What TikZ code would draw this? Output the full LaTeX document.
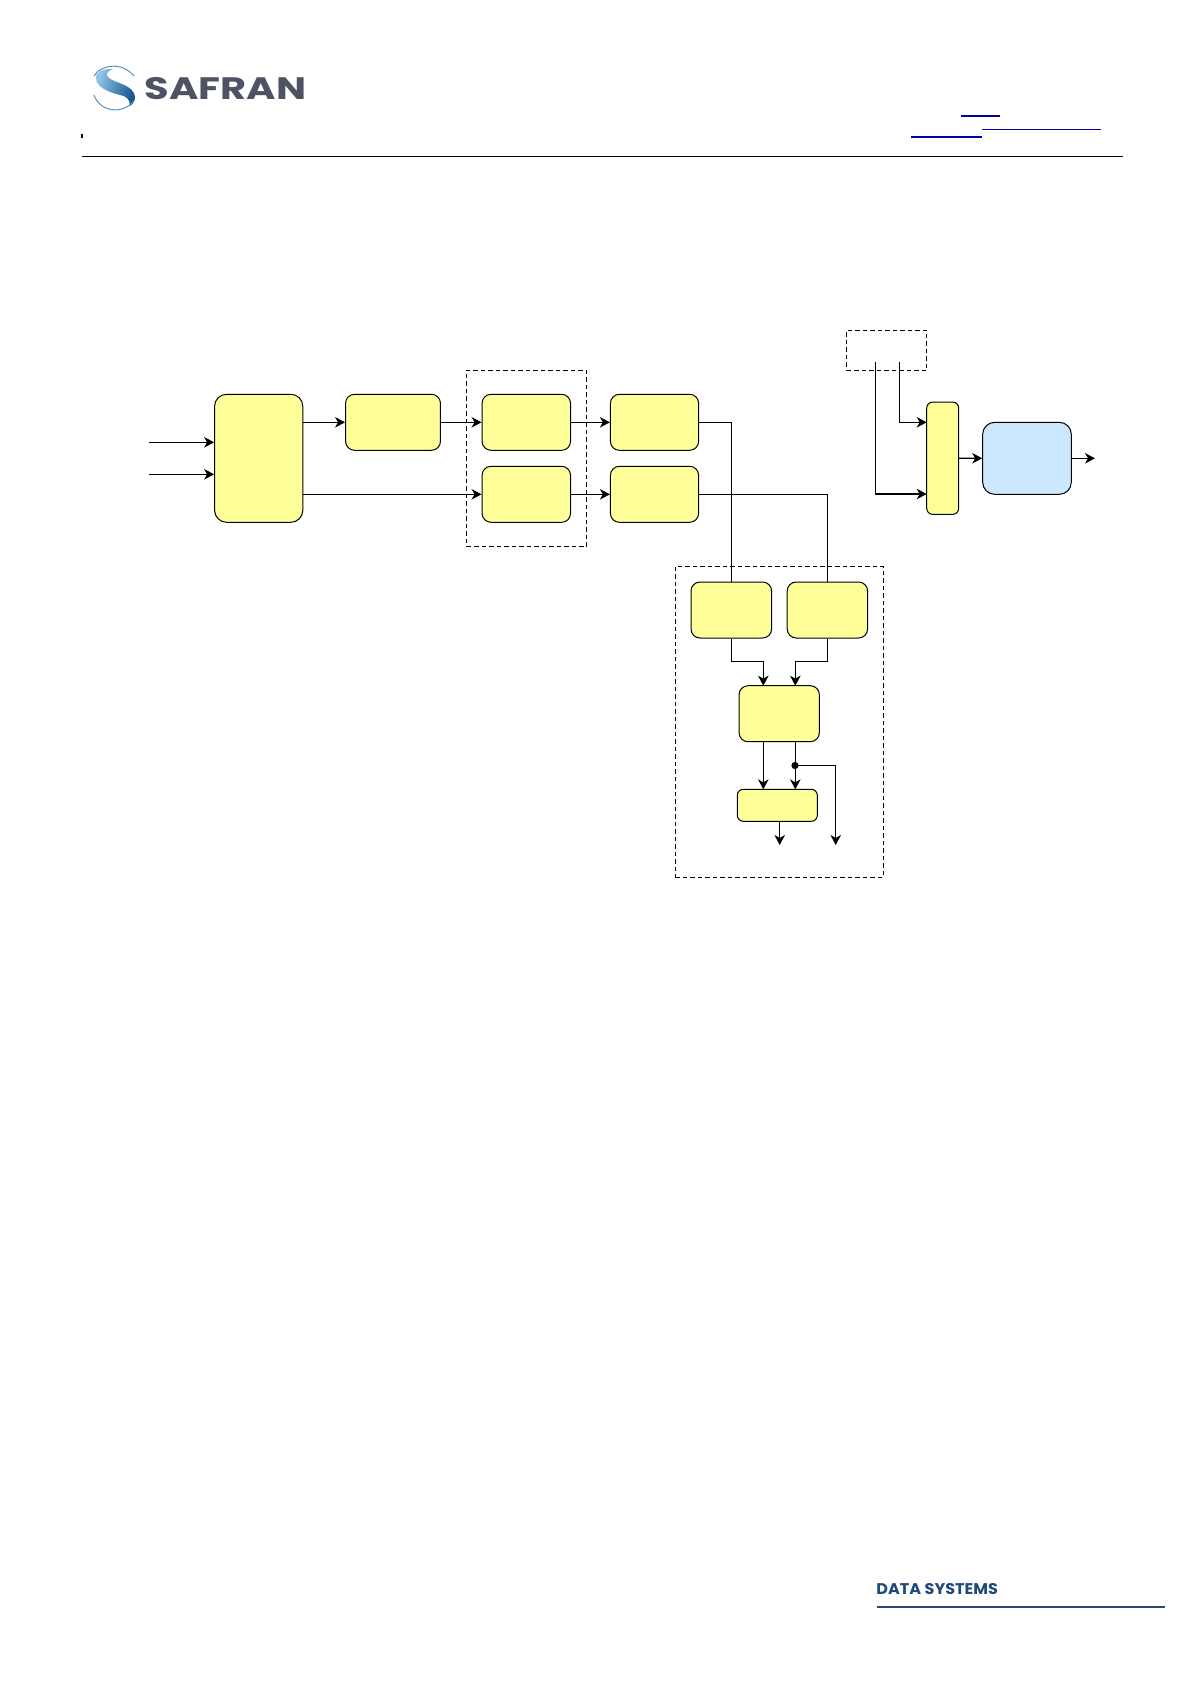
\documentclass[tikz,border=0pt]{standalone}
\usepackage{fontspec}
\setmainfont{Poppins}
\usetikzlibrary{arrows.meta}
\definecolor{boxyellow}{HTML}{FFFF99}
\definecolor{boxblue}{HTML}{CCE8FF}
\definecolor{linkblue}{HTML}{0000B0}
\definecolor{logogrey}{HTML}{4E5364}
\definecolor{dsblue}{HTML}{1F4A7A}
\definecolor{swA}{HTML}{14548F}
\definecolor{swB}{HTML}{8FC4E8}
\tikzset{
  blockbox/.style={draw=black,line width=1pt,fill=boxyellow,rounded corners=9pt,inner sep=0pt},
  dashbox/.style={draw=black,line width=1.1pt,dash pattern=on 4.5pt off 3pt,inner sep=0pt},
  conn/.style={draw=black,line width=1.1pt},
  arr/.style={conn,-{Stealth[length=10pt,width=10.5pt,inset=3pt]}},
  linkline/.style={draw=linkblue}
}
\begin{document}
\begin{tikzpicture}[x=1pt,y=-1pt]
\useasboundingbox (0,0) rectangle (1191,1684);
% header
\draw[line width=1.1pt] (82,156.3) -- (1123,156.3);
\draw[line width=1.2pt] (82,134) -- (82,138);
\draw[linkline,line width=2pt] (961,115.7) -- (1000,115.7);
\draw[linkline,line width=1pt] (982,129.3) -- (1101,129.3);
\draw[linkline,line width=2pt] (911,137) -- (982,137);
% logo swoosh
\shade[left color=swB,right color=swA,shading angle=70]
  (96,78) .. controls (96,71) and (103,69) .. (113,69)
  .. controls (107,71) and (105,75) .. (109,78)
  .. controls (115,83) and (134,85) .. (135,97)
  .. controls (135,101) and (133,104) .. (130,106)
  .. controls (130,99) and (126,96) .. (120,95)
  .. controls (108,92) and (96,87) .. (96,78) -- cycle;
\draw[swB!55!swA,line width=1pt] (94,76) .. controls (100,65) and (122,61) .. (134,76);
\draw[swB!55!swA,line width=1pt] (94,95) .. controls (100,112) and (122,115) .. (134,101);
\node[text=logogrey,font=\bfseries\fontsize{31}{31}\selectfont,inner sep=0pt,anchor=center,xscale=1.29] (logotext) at (225.5,89) {SAFRAN};
% footer
\node[text=dsblue,font=\bfseries\fontsize{15.5}{15.5}\selectfont,inner sep=0pt,anchor=center,xscale=1.035] (dstext) at (937.2,1589) {DATA SYSTEMS};
\draw[dsblue,line width=1.2pt] (877,1607) -- (1165,1607);
% dashed frames
\node[dashbox,minimum width=120pt,minimum height=176.4pt] (frameC) at (526.5,458.5) {};
\node[dashbox,minimum width=80pt,minimum height=40.4pt] (frameS) at (886.7,350.5) {};
\node[dashbox,minimum width=208pt,minimum height=311pt] (frameE) at (779.3,721.8) {};
% blocks
\node[blockbox,rounded corners=12pt,minimum width=88.2pt,minimum height=128pt] (A) at (258.7,458.3) {};
\node[blockbox,minimum width=94.9pt,minimum height=56pt] (B) at (393,422.3) {};
\node[blockbox,minimum width=88.5pt,minimum height=56pt] (C1) at (526.3,422.3) {};
\node[blockbox,minimum width=88.5pt,minimum height=56pt] (C2) at (526.3,494.3) {};
\node[blockbox,minimum width=88.2pt,minimum height=56pt] (D1) at (654.5,422.3) {};
\node[blockbox,minimum width=88.2pt,minimum height=56pt] (D2) at (654.5,494.3) {};
\node[blockbox,rounded corners=6pt,minimum width=32pt,minimum height=112.3pt] (M) at (942.7,458.2) {};
\node[blockbox,fill=boxblue,rounded corners=12pt,minimum width=88.6pt,minimum height=72pt] (S) at (1027,458.3) {};
\node[blockbox,minimum width=80.6pt,minimum height=56pt] (E1) at (731.3,610) {};
\node[blockbox,minimum width=80.4pt,minimum height=56pt] (E2) at (827.4,610) {};
\node[blockbox,minimum width=80.3pt,minimum height=56pt] (F) at (779.2,713.7) {};
\node[blockbox,rounded corners=6pt,minimum width=80pt,minimum height=32pt] (G) at (777.3,805.3) {};
% free ends
\coordinate (in1) at (149,442.3);
\coordinate (in2) at (149,474.3);
\coordinate (s1) at (875.3,361.7);
\coordinate (s2) at (899.3,361.7);
\coordinate (m1) at (926.7,422.3);
\coordinate (m2) at (926.7,494);
\coordinate (out) at (1095,458.3);
\coordinate (f1) at (763.3,685.7);
\coordinate (f2) at (795.3,685.7);
\coordinate (g1) at (763.3,789.3);
\coordinate (g2) at (795.3,789.3);
\coordinate (fo1) at (763.3,741.7);
\coordinate (fo2) at (795.3,741.7);
\coordinate (go) at (779.7,821.3);
\coordinate (goe) at (779.7,845);
\coordinate (be) at (835.7,845);
\coordinate (bt) at (795,765.5);
% connectors
\draw[arr] (in1) -- (in1 -| A.west);
\draw[arr] (in2) -- (in2 -| A.west);
\draw[arr] (A.east |- B.west) -- (B.west);
\draw[arr] (B.east) -- (C1.west);
\draw[arr] (A.east |- C2.west) -- (C2.west);
\draw[arr] (C1.east) -- (D1.west);
\draw[arr] (C2.east) -- (D2.west);
\draw[conn] (D1.east) -| (E1.north);
\draw[conn] (D2.east) -| (E2.north);
\draw[arr] (E1.south) -- ++(0,23.3) -| (f1);
\draw[arr] (E2.south) -- ++(0,23.3) -| (f2);
\draw[arr] (fo1) -- (g1);
\draw[arr] (fo2) -- (g2);
\fill (bt) circle (3.6pt);
\draw[arr] (bt) -| (be);
\draw[arr] (go) -- (goe);
\draw[arr] (s2) |- (m1);
\draw[arr] (s1) |- (m2);
\draw[arr] (M.east) -- (S.west);
\draw[arr] (S.east) -- (out);
\end{tikzpicture}
\end{document}
